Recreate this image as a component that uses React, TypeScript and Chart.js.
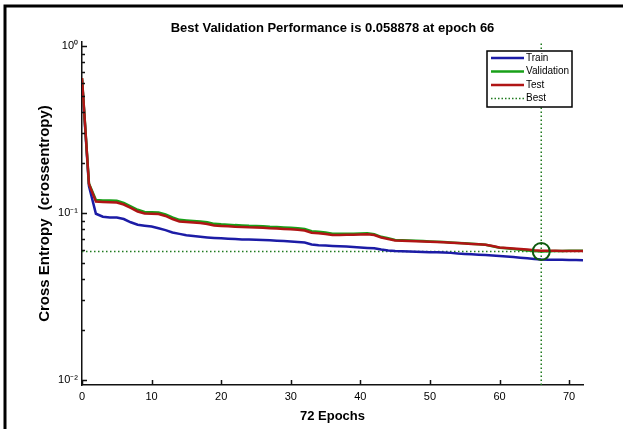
import { useEffect, useRef } from 'react';
import { Chart, registerables } from 'chart.js';

Chart.register(...registerables);

const TITLE = 'Best Validation Performance is 0.058878 at epoch 66';
const X_TITLE = '72 Epochs';
const Y_TITLE = 'Cross Entropy  (crossentropy)';

const epochs = [
  0, 1, 2, 3, 4, 5, 6, 7, 8, 9, 10, 11, 12, 13, 14, 15, 16, 17, 18, 19, 20, 21, 22, 23, 24,
  25, 26, 27, 28, 29, 30, 31, 32, 33, 34, 35, 36, 37, 38, 39, 40, 41, 42, 43, 44, 45, 46, 47,
  48, 49, 50, 51, 52, 53, 54, 55, 56, 57, 58, 59, 60, 61, 62, 63, 64, 65, 66, 67, 68, 69, 70,
  71, 72,
];

const trainLoss = [
  0.63, 0.145, 0.099, 0.095, 0.094, 0.094, 0.092, 0.088, 0.085, 0.084, 0.083, 0.081, 0.079,
  0.0765, 0.075, 0.0735, 0.0727, 0.072, 0.0714, 0.0709, 0.0705, 0.0701, 0.0698, 0.0695, 0.0694,
  0.0691, 0.0688, 0.0686, 0.0683, 0.068, 0.0676, 0.0671, 0.0665, 0.0648, 0.0642, 0.0638, 0.0635,
  0.0632, 0.0629, 0.0626, 0.0622, 0.0618, 0.0615, 0.0605, 0.0597, 0.0592, 0.059, 0.0588, 0.0586,
  0.0584, 0.0582, 0.0581, 0.0579, 0.0577, 0.0572, 0.0569, 0.0566, 0.0563, 0.056, 0.0556, 0.0553,
  0.0549, 0.0545, 0.054, 0.0536, 0.0531, 0.0527, 0.0525, 0.0525, 0.0524, 0.0523, 0.0523, 0.0522,
];

const validationLoss = [
  0.643, 0.15, 0.1196, 0.119, 0.1187, 0.1183, 0.115, 0.1095, 0.1045, 0.1015, 0.1012, 0.1008,
  0.0982, 0.094, 0.091, 0.0903, 0.0897, 0.089, 0.0879, 0.0861, 0.0855, 0.0851, 0.0846, 0.0843,
  0.0839, 0.0837, 0.0834, 0.0828, 0.0824, 0.0819, 0.0815, 0.081, 0.0802, 0.0777, 0.0771, 0.0763,
  0.0751, 0.075, 0.0751, 0.0752, 0.0754, 0.0755, 0.0746, 0.072, 0.0705, 0.069, 0.0687, 0.0684,
  0.0682, 0.0679, 0.0676, 0.0673, 0.067, 0.0666, 0.0662, 0.0658, 0.0654, 0.065, 0.0645, 0.0632,
  0.0619, 0.0614, 0.0608, 0.0602, 0.0597, 0.0592, 0.058878, 0.0591, 0.0592, 0.0593, 0.0594,
  0.0594, 0.0595,
];

const testLoss = [
  0.643, 0.149, 0.117, 0.1164, 0.116, 0.1155, 0.1124, 0.1072, 0.1021, 0.0993, 0.099, 0.0986,
  0.096, 0.092, 0.089, 0.0884, 0.0878, 0.0871, 0.086, 0.0842, 0.0837, 0.0833, 0.0828, 0.0825,
  0.0821, 0.082, 0.0817, 0.0811, 0.0807, 0.0802, 0.0798, 0.0793, 0.0786, 0.0762, 0.0757, 0.0749,
  0.0738, 0.0738, 0.074, 0.0741, 0.0744, 0.0746, 0.0738, 0.0713, 0.0699, 0.0685, 0.0682, 0.068,
  0.0678, 0.0676, 0.0673, 0.0671, 0.0668, 0.0664, 0.0661, 0.0657, 0.0653, 0.065, 0.0646, 0.0634,
  0.0621, 0.0617, 0.0613, 0.0609, 0.0605, 0.0598, 0.0595, 0.0594, 0.0594, 0.0593, 0.0592,
  0.0592, 0.0592,
];

const bestEpoch = 66;
const bestValue = 0.058878;

const xTicks = [0, 10, 20, 30, 40, 50, 60, 70];
const yMajorTicks = [1, 0.1, 0.01];
const xMin = 0;
const xMax = 72;
const yMin = 0.00933;
const yMax = 1.057;

const legendLabels = ['Train', 'Validation', 'Test', 'Best'];

const BLUE = '#1c1ca6';
const GREEN = '#18a018';
const RED = '#b01515';
const BEST_GREEN = '#1f7a1f';
const CIRCLE_GREEN = '#0e5a0e';
const FONT = "'Liberation Sans', Arial, Helvetica, sans-serif";

const SUP: Record<string, string> = {
  '0': '\u2070', '1': '\u00b9', '2': '\u00b2', '3': '\u00b3', '4': '\u2074',
  '5': '\u2075', '6': '\u2076', '7': '\u2077', '8': '\u2078', '9': '\u2079', '-': '\u207b',
};
const sup = (n: number) => String(n).split('').map((c) => SUP[c] ?? c).join('');

const toPoints = (ys: number[]) => epochs.map((e, i) => ({ x: e, y: ys[i] }));

const decorPlugin = {
  id: 'decor',
  afterDraw(chart: any) {
    const { ctx, chartArea, scales } = chart;
    const xs = scales.x;
    const ys = scales.y;
    ctx.save();

    // outer frame (left + top)
    ctx.strokeStyle = '#000';
    ctx.lineWidth = 3;
    ctx.beginPath();
    ctx.moveTo(5, chart.height);
    ctx.lineTo(5, 6);
    ctx.lineTo(chart.width, 6);
    ctx.stroke();

    // inward ticks
    ctx.strokeStyle = '#111';
    ctx.lineWidth = 1.5;
    ctx.beginPath();
    for (const t of xTicks) {
      const px = Math.round(xs.getPixelForValue(t)) + 0.5;
      ctx.moveTo(px, chartArea.bottom);
      ctx.lineTo(px, chartArea.bottom - 5);
    }
    for (const m of yMajorTicks) {
      for (let k = 1; k <= 9; k++) {
        const v = m * k;
        if (v < yMin || v > yMax) continue;
        const py = Math.round(ys.getPixelForValue(v)) + 0.5;
        ctx.moveTo(chartArea.left, py);
        ctx.lineTo(chartArea.left + (k === 1 ? 5 : 3), py);
      }
    }
    ctx.stroke();

    // legend box
    const bx = chartArea.right - 96;
    const by = chartArea.top + 9;
    const bw = 85;
    const bh = 56;
    ctx.fillStyle = '#fff';
    ctx.fillRect(bx, by, bw, bh);
    ctx.strokeStyle = '#000';
    ctx.lineWidth = 1.5;
    ctx.strokeRect(bx, by, bw, bh);

    const styles = [
      { color: BLUE, dash: [] as number[], width: 2.5 },
      { color: GREEN, dash: [] as number[], width: 2.5 },
      { color: RED, dash: [] as number[], width: 2.5 },
      { color: BEST_GREEN, dash: [1.5, 2], width: 1.5 },
    ];
    ctx.font = `10px ${FONT}`;
    ctx.textBaseline = 'middle';
    ctx.textAlign = 'left';
    legendLabels.forEach((label, i) => {
      const y = by + 7 + i * 13.5;
      const s = styles[i];
      ctx.beginPath();
      ctx.setLineDash(s.dash);
      ctx.strokeStyle = s.color;
      ctx.lineWidth = s.width;
      ctx.moveTo(bx + 4, y);
      ctx.lineTo(bx + 37, y);
      ctx.stroke();
      ctx.setLineDash([]);
      ctx.fillStyle = '#000';
      ctx.fillText(label, bx + 39, y);
    });
    ctx.restore();
  },
};

export default function App() {
  const ref = useRef<HTMLCanvasElement>(null);

  useEffect(() => {
    if (!ref.current) return;
    const chart = new Chart(ref.current, {
      type: 'line',
      data: {
        datasets: [
          {
            label: 'Best circle',
            data: [{ x: bestEpoch, y: bestValue }],
            showLine: false,
            pointRadius: 8.5,
            pointBorderWidth: 2,
            pointBorderColor: CIRCLE_GREEN,
            pointBackgroundColor: 'rgba(0,0,0,0)',
            order: 0,
          },
          {
            label: 'Test',
            data: toPoints(testLoss),
            borderColor: RED,
            borderWidth: 2.5,
            pointRadius: 0,
            tension: 0,
            order: 1,
          },
          {
            label: 'Validation',
            data: toPoints(validationLoss),
            borderColor: GREEN,
            borderWidth: 2.5,
            pointRadius: 0,
            tension: 0,
            order: 2,
          },
          {
            label: 'Train',
            data: toPoints(trainLoss),
            borderColor: BLUE,
            borderWidth: 2.5,
            pointRadius: 0,
            tension: 0,
            order: 3,
          },
          {
            label: 'Best',
            data: [
              { x: xMin, y: bestValue },
              { x: xMax, y: bestValue },
            ],
            borderColor: BEST_GREEN,
            borderWidth: 1.5,
            borderDash: [1.5, 2.5],
            pointRadius: 0,
            order: 4,
          },
          {
            label: 'Best vertical',
            data: [
              { x: bestEpoch, y: yMin },
              { x: bestEpoch, y: yMax },
            ],
            borderColor: BEST_GREEN,
            borderWidth: 1.5,
            borderDash: [1.5, 2.5],
            pointRadius: 0,
            order: 5,
          },
        ],
      },
      options: {
        responsive: false,
        animation: false,
        devicePixelRatio: 1,
        layout: { padding: { left: 0, right: 40, top: 0, bottom: 0 } },
        plugins: {
          legend: { display: false },
          tooltip: { enabled: false },
          title: {
            display: true,
            text: TITLE,
            fullSize: false,
            color: '#000',
            font: { family: FONT, size: 13, weight: 'bold' },
            padding: { top: 20.2, bottom: 6.2 },
          },
        },
        scales: {
          x: {
            type: 'linear',
            min: xMin,
            max: xMax,
            afterFit: (s: any) => {
              s.height = 44;
            },
            grid: { display: false, drawTicks: false },
            border: { display: true, color: '#111', width: 1.5 },
            ticks: {
              stepSize: 10,
              includeBounds: false,
              autoSkip: false,
              maxRotation: 0,
              padding: 5,
              color: '#000',
              font: { family: FONT, size: 11 },
            },
            title: {
              display: true,
              text: X_TITLE,
              color: '#000',
              font: { family: FONT, size: 13, weight: 'bold' },
              padding: { top: 0, bottom: 5.2 },
            },
          },
          y: {
            type: 'logarithmic',
            min: yMin,
            max: yMax,
            afterFit: (s: any) => {
              s.width = 82;
            },
            grid: { display: false, drawTicks: false },
            border: { display: true, color: '#111', width: 1.5 },
            ticks: {
              autoSkip: false,
              padding: 4,
              color: '#000',
              font: { family: FONT, size: 11 },
              callback: (v: any) => {
                const e = Math.log10(Number(v));
                const r = Math.round(e);
                return Math.abs(e - r) < 1e-6 ? '10' + sup(r) : '';
              },
            },
            title: {
              display: true,
              text: Y_TITLE,
              color: '#000',
              font: { family: FONT, size: 15, weight: 'bold' },
              padding: { top: 36, bottom: 0 },
            },
          },
        },
      },
      plugins: [decorPlugin],
    } as any);
    return () => chart.destroy();
  }, []);

  return (
    <div
      style={{
        position: 'absolute',
        left: 0,
        top: 0,
        width: 623,
        height: 429,
        background: '#fff',
      }}
    >
      <canvas
        ref={ref}
        width={623}
        height={429}
        style={{ display: 'block', width: 623, height: 429 }}
      />
    </div>
  );
}
